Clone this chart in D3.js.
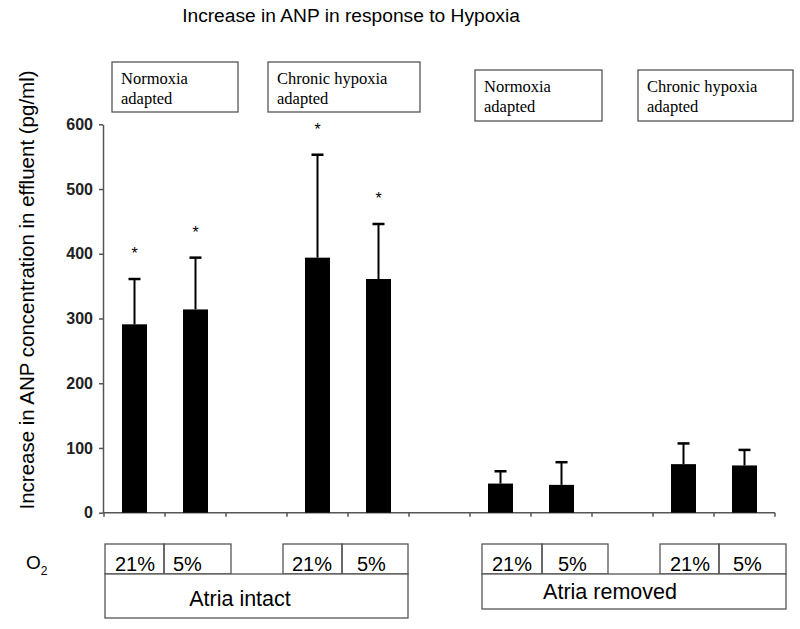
<!DOCTYPE html>
<html>
<head>
<meta charset="utf-8">
<script src="https://cdn.jsdelivr.net/npm/d3@7"></script>
<style>
  body { margin: 0; background: #fff; }
  svg { display: block; }
</style>
</head>
<body>
<div class="canvas"></div>
<script>
// data
const categories = ["N-int-21", "N-int-5", "gap1", "CH-int-21", "CH-int-5", "gap2",
                    "N-rem-21", "N-rem-5", "gap3", "CH-rem-21", "CH-rem-5"];
const barKeys = ["N-int-21", "N-int-5", "CH-int-21", "CH-int-5",
                 "N-rem-21", "N-rem-5", "CH-rem-21", "CH-rem-5"];
const means = [291, 314, 394, 361, 45, 43, 75, 73];
const errTops = [361, 394, 553, 446, 64, 78, 107, 97];
const signif = [true, true, true, true, false, false, false, false];
const yTicks = [0, 100, 200, 300, 400, 500, 600];

const W = 800, H = 629;
const font = "'Liberation Sans', Arial, sans-serif";
const serif = "'Liberation Serif', 'Times New Roman', serif";
const grey = "#555";

const svg = d3.select('.canvas')
  .append('svg')
    .attr('width', W)
    .attr('height', H);

const x = d3.scaleBand()
  .domain(categories)
  .range([104, 775]);

const y = d3.scaleLinear()
  .domain([0, 600])
  .range([512.7, 124.3]);

// title
svg.append("text")
  .attr("x", 351)
  .attr("y", 22)
  .attr("text-anchor", "middle")
  .style("font-family", font)
  .style("font-size", "19.2px")
  .text("Increase in ANP in response to Hypoxia");

// y axis label
svg.append("text")
  .attr("transform", "translate(34, 290) rotate(-90)")
  .attr("text-anchor", "middle")
  .style("font-family", font)
  .style("font-size", "20.5px")
  .text("Increase in ANP concentration in effluent (pg/ml)");

// y axis
const yAxis = svg.append("g")
  .attr("transform", "translate(103,0)")
  .call(d3.axisLeft(y).tickValues(yTicks).tickSize(4).tickSizeOuter(0).tickPadding(6));
yAxis.select(".domain").attr("stroke", grey).attr("stroke-width", 1.5);
yAxis.selectAll(".tick line").attr("stroke", grey).attr("stroke-width", 1.5);
yAxis.selectAll("text")
  .style("font-family", font)
  .style("font-size", "16px")
  .style("font-weight", "bold")
  .attr("fill", "#222");

// x axis: line plus ticks at band boundaries
const xAxis = svg.append("g");
xAxis.append("line")
  .attr("x1", 103).attr("x2", x.range()[1])
  .attr("y1", y(0)).attr("y2", y(0))
  .attr("stroke", grey).attr("stroke-width", 1.5);
const bounds = categories.map(c => x(c)).concat([x.range()[1]]);
xAxis.selectAll("line.tk")
  .data(bounds)
  .enter()
  .append("line")
    .attr("class", "tk")
    .attr("x1", d => d).attr("x2", d => d)
    .attr("y1", y(0)).attr("y2", y(0) + 4)
    .attr("stroke", grey).attr("stroke-width", 1.5);

const barW = x.bandwidth() * 0.41;
const cx = k => x(k) + x.bandwidth() / 2;

// error bars (upper only)
svg.selectAll("line.err")
  .data(barKeys)
  .enter()
  .append("line")
    .attr("class", "err")
    .attr("x1", d => cx(d)).attr("x2", d => cx(d))
    .attr("y1", (d, i) => y(means[i])).attr("y2", (d, i) => y(errTops[i]))
    .attr("stroke", "#000").attr("stroke-width", 2);
svg.selectAll("line.cap")
  .data(barKeys)
  .enter()
  .append("line")
    .attr("class", "cap")
    .attr("x1", d => cx(d) - 6).attr("x2", d => cx(d) + 6)
    .attr("y1", (d, i) => y(errTops[i])).attr("y2", (d, i) => y(errTops[i]))
    .attr("stroke", "#000").attr("stroke-width", 2.5);

// bars
svg.selectAll("rect.bar")
  .data(barKeys)
  .enter()
  .append("rect")
    .attr("class", "bar")
    .attr("x", d => cx(d) - barW / 2)
    .attr("width", barW)
    .attr("y", (d, i) => y(means[i]))
    .attr("height", (d, i) => y(0) - y(means[i]))
    .attr("fill", "#000");

// significance stars
svg.selectAll("text.star")
  .data(barKeys.filter((d, i) => signif[i]))
  .enter()
  .append("text")
    .attr("class", "star")
    .attr("x", d => cx(d))
    .attr("y", (d, i) => y(errTops[i]) - 20)
    .attr("text-anchor", "middle")
    .style("font-family", font)
    .style("font-size", "16px")
    .text("*");

// top annotation boxes
const topBoxes = [
  {x0: 112, x1: 238, y0: 62, y1: 112, lines: ["Normoxia", "adapted"]},
  {x0: 268, x1: 420, y0: 62, y1: 112, lines: ["Chronic hypoxia", "adapted"]},
  {x0: 475, x1: 602, y0: 70, y1: 121, lines: ["Normoxia", "adapted"]},
  {x0: 638, x1: 793, y0: 70, y1: 121, lines: ["Chronic hypoxia", "adapted"]}
];
topBoxes.forEach(b => {
  svg.append("rect")
    .attr("x", b.x0).attr("y", b.y0)
    .attr("width", b.x1 - b.x0).attr("height", b.y1 - b.y0)
    .attr("fill", "none").attr("stroke", grey).attr("stroke-width", 1.3);
  b.lines.forEach((t, j) => {
    svg.append("text")
      .attr("x", b.x0 + 9)
      .attr("y", b.y0 + 22 + j * 19.5)
      .style("font-family", serif)
      .style("font-size", "16.5px")
      .text(t);
  });
});

// bottom condition table
const o2 = svg.append("text")
  .attr("x", 26).attr("y", 569)
  .style("font-family", font)
  .style("font-size", "19px")
  .text("O");
o2.append("tspan")
  .attr("dy", 6)
  .style("font-size", "12px")
  .text("2");

const cells = [
  {x0: 105, x1: 164, tx: 10, label: "21%"}, {x0: 164, x1: 231, tx: 9, label: "5%"},
  {x0: 283, x1: 342, tx: 9, label: "21%"}, {x0: 342, x1: 408, tx: 15, label: "5%"},
  {x0: 482, x1: 542, tx: 10, label: "21%"}, {x0: 542, x1: 608, tx: 16, label: "5%"},
  {x0: 660, x1: 719, tx: 10, label: "21%"}, {x0: 719, x1: 786, tx: 14, label: "5%"}
];
cells.forEach(c => {
  svg.append("rect")
    .attr("x", c.x0).attr("y", 544)
    .attr("width", c.x1 - c.x0).attr("height", 30)
    .attr("fill", "none").attr("stroke", grey).attr("stroke-width", 1.3);
  svg.append("text")
    .attr("x", c.x0 + c.tx).attr("y", 571)
    .style("font-family", font)
    .style("font-size", "20px")
    .text(c.label);
});

const groups = [
  {x0: 105, x1: 408, y1: 618, tx: 240, ty: 606, label: "Atria intact"},
  {x0: 482, x1: 786, y1: 609, tx: 610, ty: 599, label: "Atria removed"}
];
groups.forEach(g => {
  svg.append("rect")
    .attr("x", g.x0).attr("y", 574)
    .attr("width", g.x1 - g.x0).attr("height", g.y1 - 574)
    .attr("fill", "#fff").attr("stroke", grey).attr("stroke-width", 1.3);
  svg.append("text")
    .attr("x", g.tx)
    .attr("y", g.ty)
    .attr("text-anchor", "middle")
    .style("font-family", font)
    .style("font-size", "21.5px")
    .text(g.label);
});
</script>
</body>
</html>
